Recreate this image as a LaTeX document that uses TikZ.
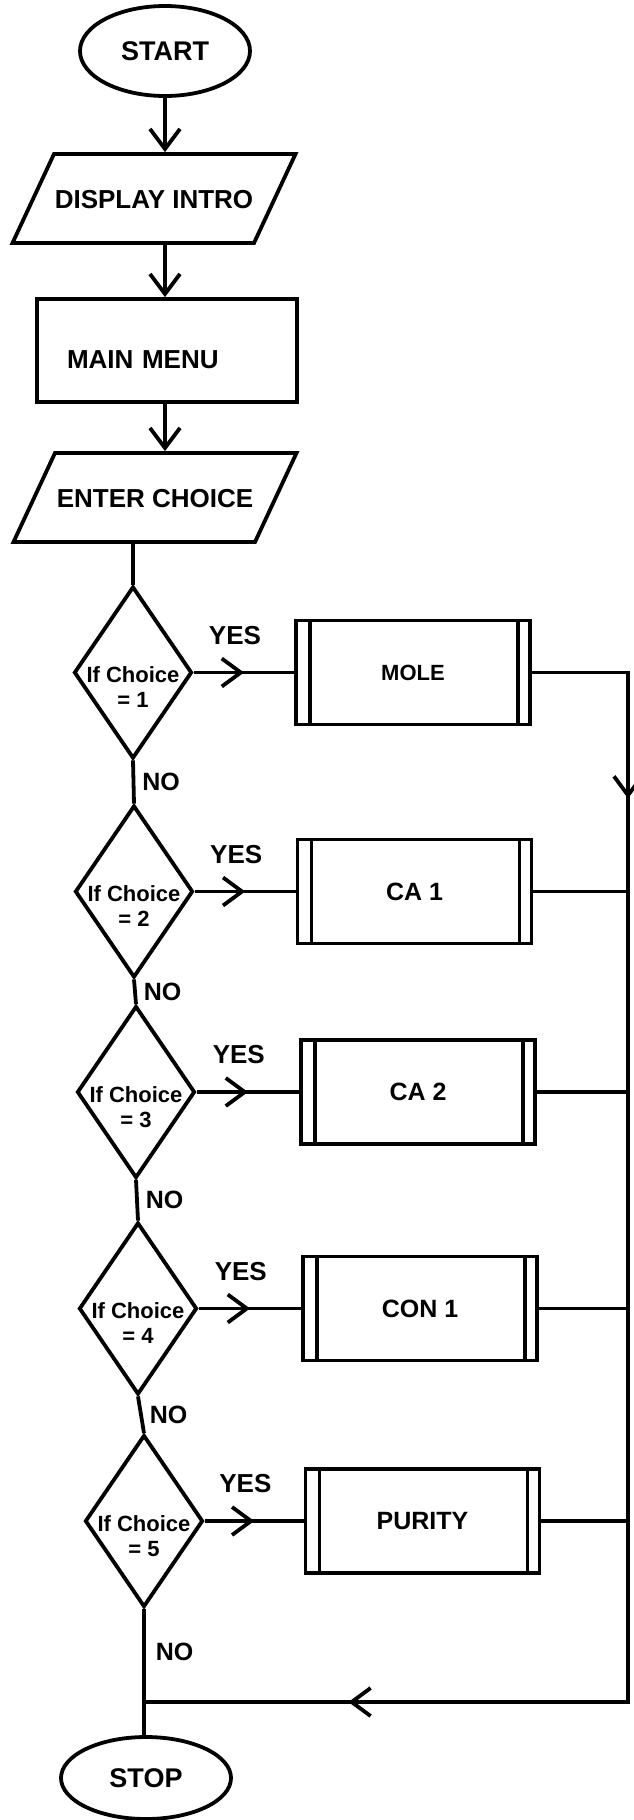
\documentclass[tikz,border=0pt]{standalone}
\usepackage{fontspec}
\setmainfont{Liberation Sans}
\usetikzlibrary{shapes.geometric, arrows.meta, decorations.markings}

\begin{document}
\begin{tikzpicture}[x=1pt, y=-1pt]
  \tikzset{
    line/.style={line width=3.8pt},
    barb/.tip={Straight Barb[length=19pt, width=28pt]},
    arrow/.style={line, -{Straight Barb[length=20pt, width=30pt]}},
    midarrow/.style={
      line,
      postaction={decorate},
      decoration={markings, mark=at position #1 with {\arrow{barb}}}
    },
    terminal/.style={
      line, draw, ellipse,
      minimum width=170pt,
      minimum height=90pt,
      inner sep=0pt,
      font=\bfseries\fontsize{27}{32}\selectfont
    },
    io/.style={
      line, draw, trapezium,
      trapezium left angle=65,
      trapezium right angle=115,
      trapezium stretches body=true,
      minimum width=283pt,
      inner sep=0pt,
      text height=54pt,
      text depth=35pt,
      font=\bfseries\fontsize{26}{31}\selectfont
    },
    process/.style={
      line, draw, rectangle,
      minimum width=260pt,
      minimum height=103pt,
      text width=200pt,
      inner xsep=30pt,
      align=left,
      text height=35pt,
      text depth=0pt,
      font=\bfseries\fontsize{26}{31}\selectfont
    },
    decision/.style={
      line, draw, diamond,
      minimum width=118pt,
      minimum height=172pt,
      inner sep=0pt
    },
    dtext/.style={
      align=center,
      yshift=-15pt,
      inner sep=0pt,
      font=\bfseries\fontsize{22}{25}\selectfont
    },
    subproc/.style={
      line, draw, rectangle,
      minimum width=234pt,
      minimum height=104pt,
      inner sep=0pt,
      font=\bfseries\fontsize{25}{30}\selectfont,
      path picture={
        \draw[line] ([xshift=14pt]path picture bounding box.north west)
          -- ([xshift=14pt]path picture bounding box.south west);
        \draw[line] ([xshift=-12pt]path picture bounding box.north east)
          -- ([xshift=-12pt]path picture bounding box.south east);
      }
    },
    yeslabel/.style={
      above=26pt,
      inner sep=0pt,
      font=\bfseries\fontsize{26}{31}\selectfont
    },
    nolabel/.style={
      right,
      inner sep=0pt,
      xshift=7pt,
      font=\bfseries\fontsize{25}{30}\selectfont
    }
  }

  \useasboundingbox (0,0) rectangle (634,1820);

  % Top of the chart
  \node[terminal] at (165, 51) (start) {START};
  \node[io] at (154, 198.5) (intro) {DISPLAY INTRO};
  \node[process] at (167, 350.5) (menu) {MAIN MENU};
  \node[io] at (155, 497.5) (choice) {ENTER CHOICE};

  \draw[arrow] (start.south) -- (start.south |- intro.north);
  \draw[arrow] (intro.south -| start.south) -- (start.south |- menu.north);
  \draw[arrow] (menu.south -| start.south) -- (start.south |- choice.north);

  % Choice tests
  \node[decision, label={[dtext]center:If Choice\\= 1}] at (133, 672.5) (d1) {};
  \node[decision, label={[dtext]center:If Choice\\= 2}] at (134, 891.5) (d2) {};
  \node[decision, label={[dtext]center:If Choice\\= 3}] at (136, 1092) (d3) {};
  \node[decision, label={[dtext]center:If Choice\\= 4}] at (138, 1308.5) (d4) {};
  \node[decision, label={[dtext]center:If Choice\\= 5}] at (144, 1521) (d5) {};

  \draw[line] (choice.south -| d1.north) -- (d1.north);
  \draw[line] (d1.south) -- node[nolabel] {NO} (d2.north);
  \draw[line] (d2.south) -- node[nolabel] {NO} (d3.north);
  \draw[line] (d3.south) -- node[nolabel] {NO} (d4.north);
  \draw[line] (d4.south) -- node[nolabel] {NO} (d5.north);

  % Sub programs
  \node[subproc, font=\bfseries\fontsize{22}{26}\selectfont] at (413, 672.5) (mole) {MOLE};
  \node[subproc] at (414.5, 891.5) (ca1) {CA 1};
  \node[subproc] at (418, 1092) (ca2) {CA 2};
  \node[subproc] at (420, 1308.5) (con1) {CON 1};
  \node[subproc] at (422.5, 1521) (purity) {PURITY};

  \draw[midarrow=0.5] (d1) -- node[yeslabel, pos=0.41] {YES} (mole);
  \draw[midarrow=0.5] (d2) -- node[yeslabel, pos=0.41] {YES} (ca1);
  \draw[midarrow=0.5] (d3) -- node[yeslabel, pos=0.41] {YES} (ca2);
  \draw[midarrow=0.5] (d4) -- node[yeslabel, pos=0.41] {YES} (con1);
  \draw[midarrow=0.5] (d5) -- node[yeslabel, pos=0.41] {YES} (purity);

  % Return path
  \node[terminal, minimum height=82pt] at (146, 1778) (stop) {STOP};
  \coordinate (bustop) at (628, 672.5);
  \coordinate (busbot) at (628, 1702);
  \coordinate (join) at (144, 1702);

  \draw[line, postaction={decorate}, decoration={markings,
      mark=at position 0.138 with {\arrow{barb}},
      mark=at position 0.873 with {\arrow{barb}}}]
    (mole) -- (bustop) -- (busbot) -- (join);
  \draw[line] (ca1) -- (ca1 -| bustop);
  \draw[line] (ca2) -- (ca2 -| bustop);
  \draw[line] (con1) -- (con1 -| bustop);
  \draw[line] (purity) -- (purity -| bustop);
  \draw[line] (d5.south) -- node[nolabel, pos=0.34, xshift=3pt] {NO} (d5.south |- stop.north);

\end{tikzpicture}
\end{document}
